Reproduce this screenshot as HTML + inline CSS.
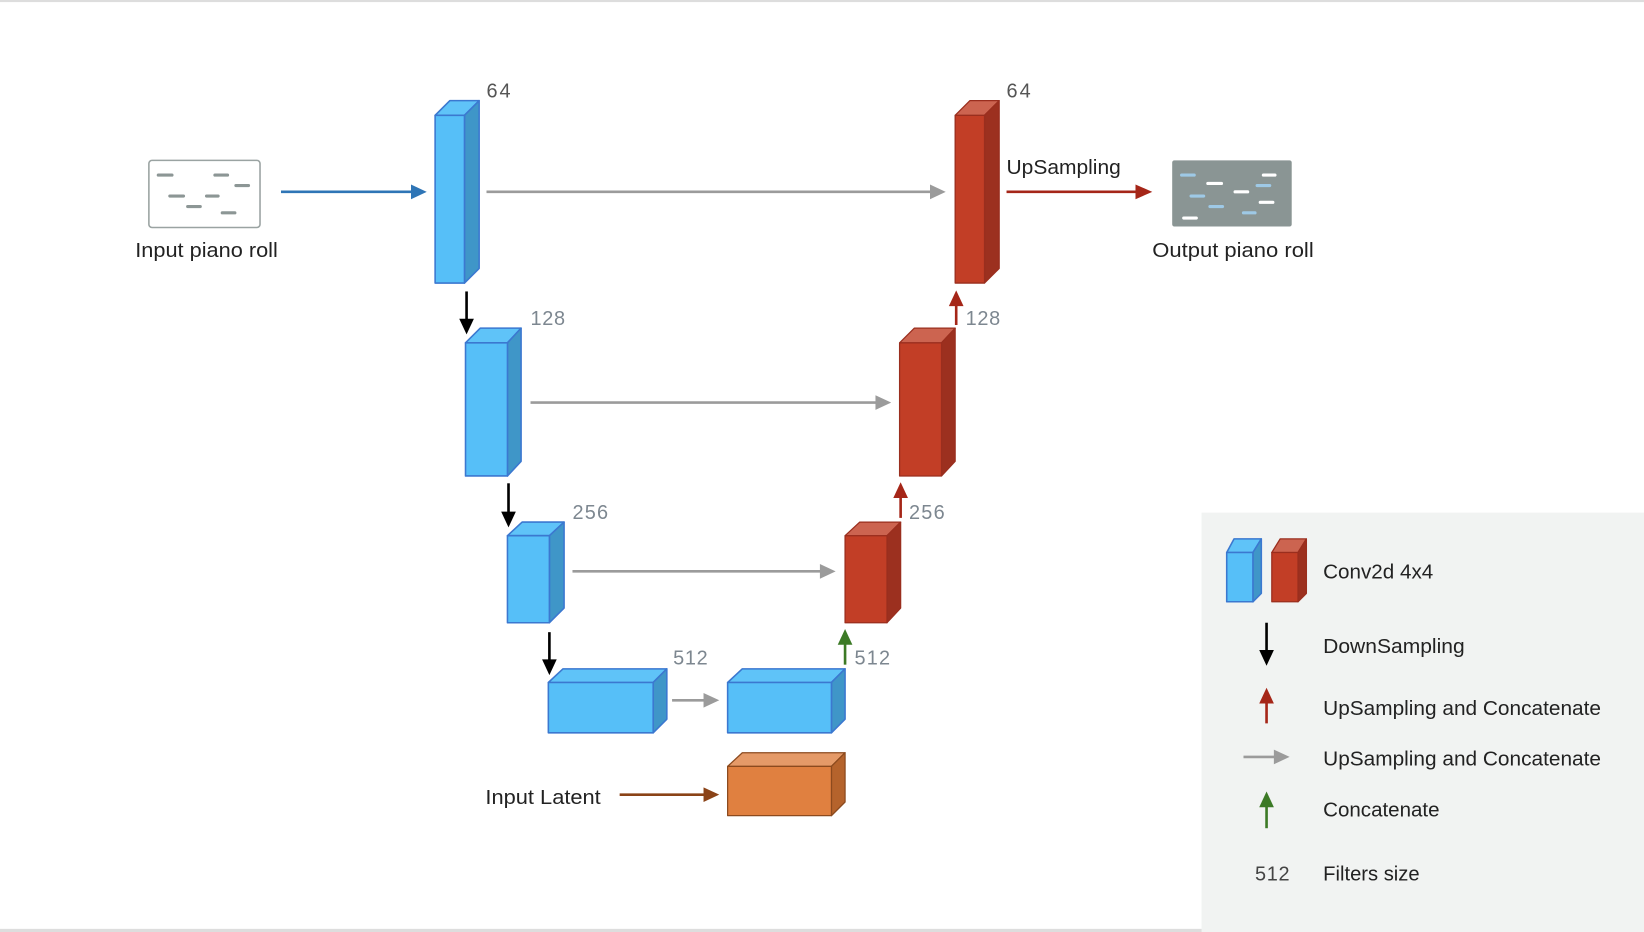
<!DOCTYPE html>
<html><head><meta charset="utf-8"><style>
html,body{margin:0;padding:0;background:#fff;}
svg{display:block;}
text{font-family:"Liberation Sans","DejaVu Sans",sans-serif;}
</style></head><body>
<svg width="1644" height="932" viewBox="0 0 1568 889" preserveAspectRatio="none" xmlns="http://www.w3.org/2000/svg">
<rect x="0" y="0" width="1568" height="2" fill="#ddd"/>
<rect x="0" y="886" width="1568" height="3" fill="#ddd"/>
<rect x="1146" y="489" width="422" height="400" fill="#f1f3f2"/>

<!-- input piano roll -->
<rect x="142" y="153" width="106" height="64" rx="3" fill="#fff" stroke="#9aa3a2" stroke-width="1.5"/>
<g stroke="#8c9695" stroke-width="3" stroke-linecap="round">
<line x1="151" y1="167" x2="164" y2="167"/><line x1="205" y1="167" x2="217" y2="167"/><line x1="225" y1="177" x2="237" y2="177"/>
<line x1="162" y1="187" x2="175" y2="187"/><line x1="197" y1="187" x2="208" y2="187"/><line x1="179" y1="197" x2="191" y2="197"/><line x1="212" y1="203" x2="224" y2="203"/>
</g>
<text x="129" y="245" font-size="19" fill="#222" textLength="136" lengthAdjust="spacingAndGlyphs">Input piano roll</text>
<line x1="268" y1="183" x2="396" y2="183" stroke="#2e75b6" stroke-width="2.5"/>
<path d="M392,176 L407,183 L392,190z" fill="#2e75b6"/>

<!-- output piano roll -->
<rect x="1118" y="153" width="114" height="63" rx="2" fill="#8a9594"/>
<g stroke-width="3" stroke-linecap="round">
<line x1="1127" y1="167" x2="1139" y2="167" stroke="#9ec9e6"/><line x1="1205" y1="167" x2="1216" y2="167" stroke="#fff"/>
<line x1="1152" y1="175" x2="1165" y2="175" stroke="#fff"/><line x1="1199" y1="177" x2="1211" y2="177" stroke="#9ec9e6"/>
<line x1="1178" y1="183" x2="1190" y2="183" stroke="#fff"/><line x1="1136" y1="187" x2="1148" y2="187" stroke="#9ec9e6"/>
<line x1="1202" y1="193" x2="1214" y2="193" stroke="#fff"/><line x1="1154" y1="197" x2="1166" y2="197" stroke="#9ec9e6"/>
<line x1="1186" y1="203" x2="1197" y2="203" stroke="#9ec9e6"/><line x1="1129" y1="208" x2="1141" y2="208" stroke="#fff"/>
</g>
<text x="1099" y="245" font-size="19" fill="#222" textLength="154" lengthAdjust="spacingAndGlyphs">Output piano roll</text>

<!-- blue blocks -->
<g stroke="#3b78d0" stroke-width="1.5" stroke-linejoin="round">
<path d="M415,110 L429,96 L457,96 L443,110z" fill="#5fc3f8"/><path d="M443,110 L457,96 L457,256 L443,270z" fill="#3f96c8"/><rect x="415" y="110" width="28" height="160" fill="#56bff8"/>
<path d="M444,327 L458,313 L497,313 L484,327z" fill="#5fc3f8"/><path d="M484,327 L497,313 L497,440 L484,454z" fill="#3f96c8"/><rect x="444" y="327" width="40" height="127" fill="#56bff8"/>
<path d="M484,511 L498,498 L538,498 L524,511z" fill="#5fc3f8"/><path d="M524,511 L538,498 L538,580 L524,594z" fill="#3f96c8"/><rect x="484" y="511" width="40" height="83" fill="#56bff8"/>
<path d="M523,651 L537,638 L636,638 L623,651z" fill="#5fc3f8"/><path d="M623,651 L636,638 L636,686 L623,699z" fill="#3f96c8"/><rect x="523" y="651" width="100" height="48" fill="#56bff8"/>
<path d="M694,651 L708,638 L806,638 L793,651z" fill="#5fc3f8"/><path d="M793,651 L806,638 L806,686 L793,699z" fill="#3f96c8"/><rect x="694" y="651" width="99" height="48" fill="#56bff8"/>
<path d="M1170,527 L1177,514 L1203,514 L1195,527z" fill="#5fc3f8"/><path d="M1195,527 L1203,514 L1203,566 L1195,574z" fill="#3f96c8"/><rect x="1170" y="527" width="25" height="47" fill="#56bff8"/>
</g>
<!-- red blocks -->
<g stroke="#9a2e1e" stroke-width="1.2" stroke-linejoin="round">
<path d="M911,110 L925,96 L953,96 L939,110z" fill="#cc6450"/><path d="M939,110 L953,96 L953,256 L939,270z" fill="#9c301f"/><rect x="911" y="110" width="28" height="160" fill="#c23e26"/>
<path d="M858,327 L872,313 L911,313 L898,327z" fill="#cc6450"/><path d="M898,327 L911,313 L911,440 L898,454z" fill="#9c301f"/><rect x="858" y="327" width="40" height="127" fill="#c23e26"/>
<path d="M806,511 L820,498 L859,498 L846,511z" fill="#cc6450"/><path d="M846,511 L859,498 L859,580 L846,594z" fill="#9c301f"/><rect x="806" y="511" width="40" height="83" fill="#c23e26"/>
<path d="M1213,527 L1221,514 L1246,514 L1238,527z" fill="#cc6450"/><path d="M1238,527 L1246,514 L1246,566 L1238,574z" fill="#9c301f"/><rect x="1213" y="527" width="25" height="47" fill="#c23e26"/>
</g>
<!-- orange -->
<g stroke="#8c4a1e" stroke-width="1.2" stroke-linejoin="round">
<path d="M694,731 L708,718 L806,718 L793,731z" fill="#e59a68"/><path d="M793,731 L806,718 L806,765 L793,778z" fill="#b5632c"/><rect x="694" y="731" width="99" height="47" fill="#e08040"/>
</g>

<!-- gray arrows -->
<g stroke="#9b9b9b" stroke-width="2.5">
<line x1="464" y1="183" x2="890" y2="183"/><line x1="506" y1="384" x2="838" y2="384"/><line x1="546" y1="545" x2="785" y2="545"/><line x1="641" y1="668" x2="674" y2="668"/><line x1="1186" y1="722" x2="1218" y2="722"/>
</g>
<g fill="#9b9b9b">
<path d="M887,176 L902,183 L887,190z"/><path d="M835,377 L850,384 L835,391z"/><path d="M782,538 L797,545 L782,552z"/><path d="M671,661 L686,668 L671,675z"/><path d="M1215,715 L1230,722 L1215,729z"/>
</g>
<line x1="960" y1="183" x2="1086" y2="183" stroke="#a52618" stroke-width="2.5"/><path d="M1083,176 L1099,183 L1083,190z" fill="#a52618"/>
<g stroke="#a52618" stroke-width="2.5"><line x1="912" y1="310" x2="912" y2="288"/><line x1="859" y1="494" x2="859" y2="472"/><line x1="1208" y1="690" x2="1208" y2="668"/></g>
<g fill="#a52618"><path d="M905,292 L912,277 L919,292z"/><path d="M852,475 L859,460 L866,475z"/><path d="M1201,671 L1208,656 L1215,671z"/></g>
<g stroke="#3c7a26" stroke-width="2.5"><line x1="806" y1="634" x2="806" y2="612"/><line x1="1208" y1="790" x2="1208" y2="767"/></g>
<g fill="#3c7a26"><path d="M799,615 L806,600 L813,615z"/><path d="M1201,770 L1208,755 L1215,770z"/></g>
<g stroke="#000" stroke-width="2.5"><line x1="445" y1="278" x2="445" y2="306"/><line x1="485" y1="461" x2="485" y2="490"/><line x1="524" y1="603" x2="524" y2="631"/><line x1="1208" y1="594" x2="1208" y2="622"/></g>
<g fill="#000"><path d="M438,304 L445,319 L452,304z"/><path d="M478,488 L485,503 L492,488z"/><path d="M517,629 L524,644 L531,629z"/><path d="M1201,620 L1208,635 L1215,620z"/></g>
<line x1="591" y1="758" x2="674" y2="758" stroke="#8a4317" stroke-width="2.5"/><path d="M671,751 L686,758 L671,765z" fill="#8a4317"/>

<!-- labels -->
<g font-size="19" fill="#7d8790" lengthAdjust="spacingAndGlyphs">
<text x="464" y="93" fill="#555" textLength="23">64</text><text x="960" y="93" fill="#555" textLength="23">64</text>
<text x="506" y="310" textLength="33">128</text><text x="921" y="310" textLength="33">128</text>
<text x="546" y="495" textLength="34">256</text><text x="867" y="495" textLength="34">256</text>
<text x="642" y="634" textLength="33">512</text><text x="815" y="634" textLength="34">512</text>
<text x="1197" y="840" fill="#444" textLength="33">512</text>
</g>
<g font-size="19" fill="#222">
<text x="960" y="166" textLength="109" lengthAdjust="spacingAndGlyphs">UpSampling</text>
<text x="463" y="767" textLength="110" lengthAdjust="spacingAndGlyphs">Input Latent</text>
<text x="1262" y="552" textLength="105" lengthAdjust="spacingAndGlyphs">Conv2d 4x4</text>
<text x="1262" y="623" textLength="135" lengthAdjust="spacingAndGlyphs">DownSampling</text>
<text x="1262" y="682" textLength="265" lengthAdjust="spacingAndGlyphs">UpSampling and Concatenate</text>
<text x="1262" y="730" textLength="265" lengthAdjust="spacingAndGlyphs">UpSampling and Concatenate</text>
<text x="1262" y="779" textLength="111" lengthAdjust="spacingAndGlyphs">Concatenate</text>
<text x="1262" y="840" textLength="92" lengthAdjust="spacingAndGlyphs">Filters size</text>
</g>
</svg>
</body></html>
